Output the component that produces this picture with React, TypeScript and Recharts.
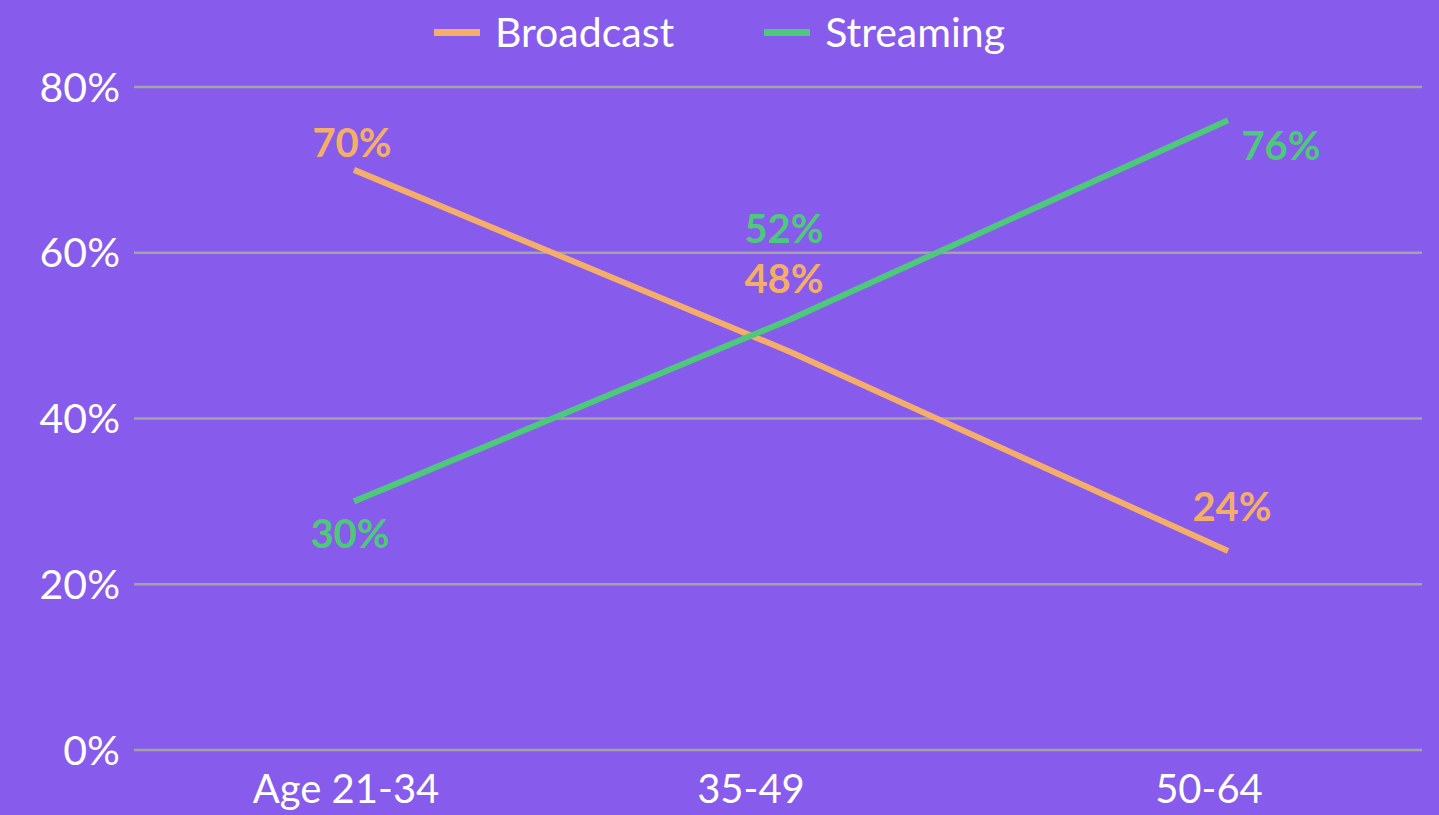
import { LineChart, Line, XAxis, YAxis, CartesianGrid, Legend, LabelList } from 'recharts';

const categories = ['Age 21-34', '35-49', '50-64'];
const broadcast = [70, 48, 24];
const streaming = [30, 52, 76];
const yTicks = [0, 20, 40, 60, 80];

// label offsets relative to each point (dx, dy of text centre)
const broadcastLabelOffsets = [[-2, -28], [-7, -74], [4, -45]];
const streamingLabelOffsets = [[-4, 32], [-7, -91], [53, 25]];
const xTickShift = [-8, -40, -19];

const BG = '#875BEB';
const ORANGE = '#F4AE6A';
const GREEN = '#4CC97A';
const FONT = 'Lato, "Open Sans", sans-serif';

const data = categories.map((c, i) => ({ name: c, broadcast: broadcast[i], streaming: streaming[i] }));

function makeLabel(offsets: number[][], color: string) {
    return (props: any) => {
        const { x, y, value, index } = props;
        const [dx, dy] = offsets[index];
        return (
            <text x={x + dx} y={y + dy} fill={color} fontSize={40} fontWeight={700} fontFamily={FONT}
                textAnchor="middle" dominantBaseline="central">
                {value}%
            </text>
        );
    };
}

function XTick(props: any) {
    const { x, y, payload, index } = props;
    return (
        <text x={x + xTickShift[index]} y={y + 30} fill="#fff" fontSize={40} fontFamily={FONT}
            textAnchor="middle" dominantBaseline="central">
            {payload.value}
        </text>
    );
}

function LegendBox() {
    const items = [
        { name: 'Broadcast', color: ORANGE },
        { name: 'Streaming', color: GREEN },
    ];
    return (
        <div style={{ display: 'flex', justifyContent: 'center', gap: 90, fontFamily: FONT, color: '#fff', fontSize: 41, height: 46, lineHeight: '46px' }}>
            {items.map((it) => (
                <div key={it.name} style={{ display: 'flex', alignItems: 'center' }}>
                    <span style={{ width: 46, height: 7, background: it.color, marginRight: 15, display: 'inline-block' }} />
                    <span>{it.name}</span>
                </div>
            ))}
        </div>
    );
}

export default function App() {
    return (
        <div style={{ position: 'absolute', left: 0, top: 0, width: 1439, height: 815, background: BG, overflow: 'hidden' }}>
            <LineChart width={1439} height={815} data={data} margin={{ top: 41, right: 17, bottom: 0, left: 0 }}>
                <CartesianGrid vertical={false} stroke="#A3A3A3" strokeWidth={2.5} />
                <XAxis dataKey="name" axisLine={false} tickLine={false} height={65}
                    padding={{ left: 220, right: 194 }} tick={<XTick />} interval={0} />
                <YAxis domain={[0, 80]} ticks={yTicks} axisLine={false} tickLine={false} width={134}
                    tickMargin={8} tickFormatter={(v) => `${v}%`}
                    tick={{ fill: '#fff', fontSize: 41, fontFamily: FONT }} />
                <Legend verticalAlign="top" content={<LegendBox />}
                    wrapperStyle={{ top: 9, left: 0, width: 1439 }} />
                <Line type="linear" dataKey="broadcast" name="Broadcast" stroke={ORANGE} strokeWidth={6}
                    dot={false} isAnimationActive={false}>
                    <LabelList dataKey="broadcast" content={makeLabel(broadcastLabelOffsets, ORANGE)} />
                </Line>
                <Line type="linear" dataKey="streaming" name="Streaming" stroke={GREEN} strokeWidth={6}
                    dot={false} isAnimationActive={false}>
                    <LabelList dataKey="streaming" content={makeLabel(streamingLabelOffsets, GREEN)} />
                </Line>
            </LineChart>
        </div>
    );
}
